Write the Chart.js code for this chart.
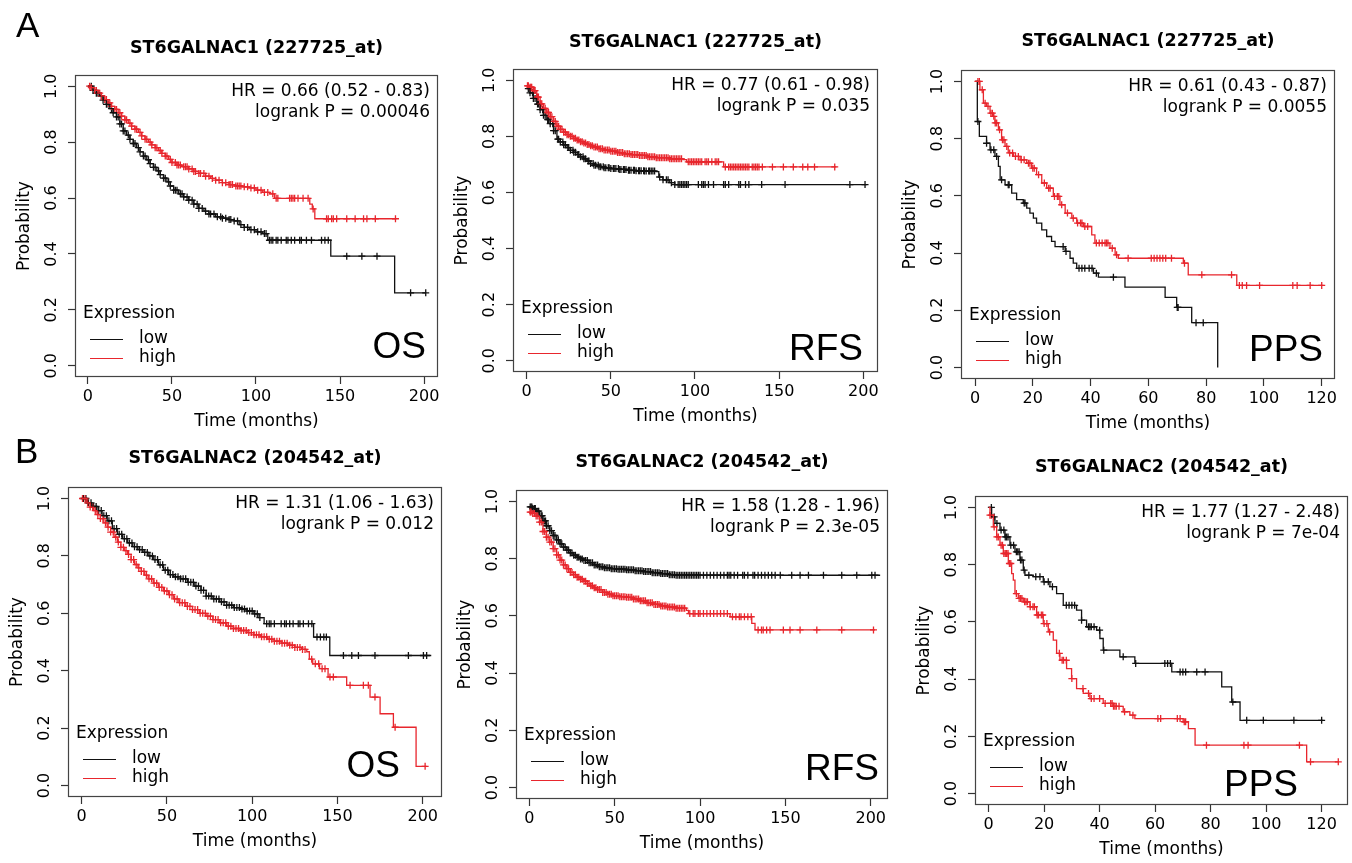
<!DOCTYPE html>
<html><head><meta charset="utf-8">
<script src="https://cdn.jsdelivr.net/npm/chart.js@4.4.1/dist/chart.umd.min.js"></script>
<style>
html,body{margin:0;padding:0;background:#fff;width:1352px;height:863px;overflow:hidden;position:relative;}
canvas{position:absolute;}
.lab{position:absolute;font-family:"Liberation Sans",Arial,sans-serif;font-size:35px;color:#000;line-height:35px;z-index:5;}
</style></head><body>
<div class="lab" style="left:16px;top:7px">A</div>
<div class="lab" style="left:15px;top:433px">B</div>
<script>
// ---------- tick labels ----------
const yTicks = [0, 0.2, 0.4, 0.6, 0.8, 1.0];
const xTicks200 = [0, 50, 100, 150, 200];
const xTicks120 = [0, 20, 40, 60, 80, 100, 120];

// ---------- texts ----------
const titles = ['ST6GALNAC1 (227725_at)', 'ST6GALNAC1 (227725_at)', 'ST6GALNAC1 (227725_at)',
                'ST6GALNAC2 (204542_at)', 'ST6GALNAC2 (204542_at)', 'ST6GALNAC2 (204542_at)'];
const hrTexts = ['HR = 0.66 (0.52 - 0.83)', 'HR = 0.77 (0.61 - 0.98)', 'HR = 0.61 (0.43 - 0.87)',
                 'HR = 1.31 (1.06 - 1.63)', 'HR = 1.58 (1.28 - 1.96)', 'HR = 1.77 (1.27 - 2.48)'];
const pTexts = ['logrank P = 0.00046', 'logrank P = 0.035', 'logrank P = 0.0055',
                'logrank P = 0.012', 'logrank P = 2.3e-05', 'logrank P = 7e-04'];
const endpoints = ['OS', 'RFS', 'PPS', 'OS', 'RFS', 'PPS'];
const groups = ['low', 'high'];

// ---------- A: ST6GALNAC1 OS ----------
const A_OS_low_time = [0,3,5,7,9,11,13,15,17,19,21,23,25,27,29,31,33,35,37,39,41,43,45,47,49,51,54,57,60,63,66,69,72,76,80,84,87,90,93,96,100,104,107,144.5,182.5,201];
const A_OS_low_surv = [1,0.985,0.975,0.965,0.95,0.935,0.92,0.905,0.89,0.865,0.84,0.825,0.81,0.795,0.78,0.765,0.75,0.737,0.723,0.71,0.697,0.684,0.671,0.658,0.643,0.628,0.615,0.604,0.592,0.578,0.563,0.553,0.543,0.533,0.528,0.523,0.518,0.505,0.495,0.487,0.479,0.473,0.449,0.392,0.261,0.261];
const A_OS_low_cens = [2,3,5,6,8,9,11,12,14,15,17,18,19,20,21,22,24,25,27,28,30,31,33,34,36,37,39,40,42,43,45,46,48,49,51,52,53,55,56,57,59,60,62,63,65,66,68,70,72,73,75,77,79,80,82,84,85,87,89,91,93,95,97,99,101,103,105,106,108,109,110,112,113,115,118,119,121,123,126,127,130,133,139,141,143,154,163,172,192,201];
const A_OS_high_time = [0,2,4,6,8,10,12,14,16,18,20,22,24,26,28,30,32,34,36,38,40,42,44,46,48,50,53,56,60,63,66,70,73,76,80,84,88,92,96,100,104,108,111,132,133.5,135,183.5];
const A_OS_high_surv = [1,0.995,0.985,0.975,0.965,0.952,0.94,0.928,0.917,0.905,0.893,0.88,0.868,0.857,0.846,0.835,0.822,0.81,0.8,0.79,0.78,0.77,0.76,0.75,0.738,0.727,0.718,0.712,0.704,0.695,0.688,0.678,0.67,0.664,0.655,0.648,0.643,0.64,0.636,0.628,0.62,0.615,0.599,0.578,0.561,0.526,0.526];
const A_OS_high_cens = [1,2,4,5,7,8,10,11,13,14,16,17,19,20,22,23,25,26,28,29,31,32,34,35,37,38,40,41,43,44,46,47,49,50,52,53,54,55,57,58,59,60,62,63,64,66,67,69,70,72,74,76,78,80,82,84,85,86,88,89,90,91,93,95,97,99,101,103,105,107,110,112,113,120,121,122,123,125,128,131,134,142,143,145,146,148,154,159,164,166,171,183];

// ---------- A: ST6GALNAC1 RFS ----------
const A_RFS_low_time = [0,2,4,6,8,10,12,14,16,18,20,22,24,26,28,30,32,34,36,38,40,43,46,50,55,60,65,70,77,78.5,81,85,88,202];
const A_RFS_low_surv = [0.97,0.955,0.935,0.915,0.895,0.875,0.86,0.845,0.82,0.79,0.78,0.77,0.76,0.75,0.743,0.735,0.727,0.72,0.712,0.703,0.697,0.692,0.688,0.685,0.682,0.679,0.677,0.676,0.674,0.655,0.645,0.635,0.628,0.628];
const A_RFS_low_cens = [1,2,3.5,4,5,6.5,7,8,9.5,10,11,12.5,13,14,15.5,16,17,18.5,19,20,21.5,22,23,24.5,25,26,27.5,28,29,30.5,31,32,33.5,34,35,36.5,37,38,39.5,40,41,42.5,43,44,45.5,46,47,48.5,49,50,51.5,52,53,54.5,55,56,57.5,58,59,60.5,61,62,63.5,64,65,66.5,67,68,69.5,70,71,72.5,73,74,75,76,79,81,83,84,86,88,90,91,92,93,94,95,96,102,104,105,106,108,111,117,118,120,126,127,130,132,139.6,153.5,192,201];
const A_RFS_high_time = [0,2,4,6,8,10,12,14,16,18,20,22,24,26,28,30,32,34,36,38,40,43,46,50,54,58,62,67,72,77,85,93,95,117,184];
const A_RFS_high_surv = [0.98,0.975,0.963,0.94,0.916,0.9,0.885,0.87,0.853,0.836,0.825,0.815,0.806,0.8,0.793,0.787,0.781,0.776,0.771,0.766,0.762,0.756,0.751,0.747,0.742,0.738,0.735,0.732,0.727,0.724,0.72,0.717,0.709,0.691,0.691];
const A_RFS_high_cens = [0.5,1,2,2.5,3,4,4.5,5,6,6.5,7,8,8.5,9,10,11,12,13,14,15,16,17,18,19,20,21,22,23,24,25,26,27,28,29,30,31,32,33,34,35,36,37,38,39,40,41,42,43,44,45,46,47,48,49,50,51,52,53,54,55,56,57,58,59,60,61,62,63,64,65,66,67,68,69,70,71,72,73,74,75,76,77,78,79,80,81,82,83,84,85,86,87,88,89,90,91,92,96,97,98,99,100,101,102,103,104,106,107,108,110,112,113,114,118,120,121,122,123,124,125,126,127,128,129,130,131,132,134,135,136,137,138,140,146,152.5,158.4,164,167,171,183];

// ---------- A: ST6GALNAC1 PPS ----------
const A_PPS_low_time = [0,0.8,1.5,4,5.2,6.9,8.1,8.7,10.4,12.7,14.4,16.7,17.9,19,20.2,21.3,23.1,24.8,26.5,27.7,31.2,32.9,34,35.2,41,42.7,51.9,65.8,69.8,75,84];
const A_PPS_low_surv = [1,0.86,0.808,0.784,0.761,0.738,0.703,0.656,0.639,0.61,0.587,0.575,0.557,0.54,0.522,0.505,0.481,0.458,0.441,0.423,0.406,0.382,0.365,0.347,0.33,0.316,0.281,0.245,0.21,0.157,0];
const A_PPS_low_cens = [1,4,5.5,6.5,7.5,9.2,11.5,11.8,17,17.3,30.5,31.5,36,37,38,39.5,40.5,42,47.9,70,70.3,76.5,79];
const A_PPS_high_time = [0,1.7,2.9,4,5.2,6.3,6.9,8.1,9.2,10.4,11.5,13.3,15.6,17.9,19.6,21.3,23.1,24.8,27.1,29.4,31.2,33.5,35.2,37.5,40.4,41.5,46.7,48.5,49.6,72.1,73.8,90.6,120.6];
const A_PPS_high_surv = [1,0.971,0.924,0.913,0.889,0.878,0.855,0.831,0.796,0.773,0.75,0.738,0.726,0.714,0.697,0.674,0.645,0.627,0.598,0.569,0.54,0.522,0.505,0.493,0.464,0.435,0.417,0.394,0.382,0.365,0.324,0.287,0.287];
const A_PPS_high_cens = [1,1.5,2.5,3.5,4.5,5.5,6,6.5,7,7.5,8.5,9.5,10,11,12,13,14,15,16,17,18.5,19,20,20.5,22,24,25.5,26,27.5,28.5,29,30,32,34,35.5,36.5,37,38,39,42,43,44,45,45.5,46,47.5,49,53,61,62,63,64,65,66,68,72.5,78.5,88.8,91.5,92.5,94,98.5,110,111.5,116,120];

// ---------- B: ST6GALNAC2 OS ----------
const B_OS_low_time = [0,3,6,9,12,15,18,21,24,27,30,33,36,39,42,45,48,51,54,58,62,66,70,73,77,81,85,89,93,97,101,104,107,136,145.5,205];
const B_OS_low_surv = [1,0.985,0.972,0.958,0.94,0.922,0.895,0.875,0.86,0.845,0.832,0.822,0.812,0.8,0.787,0.769,0.75,0.735,0.727,0.72,0.708,0.695,0.68,0.66,0.65,0.64,0.628,0.62,0.615,0.608,0.598,0.585,0.564,0.517,0.453,0.453];
const B_OS_low_cens = [1,2.5,4,5.5,7,8.5,10,11.5,13,14.5,16,17.5,19,20.5,22,23.5,25,26.5,28,29.5,31,32.5,34,35.5,37,38.5,40,41.5,43,44.5,46,47.5,49,50.5,52,53.5,55,56.5,58,59.5,61,62.5,64,65.5,67,68.5,70,71.5,73,74.5,76,77.5,79,80.5,82,83.5,85,86.5,88,89.5,91,92.5,94,95.5,97,98.5,100,101.5,103,104.5,108.5,110,111,113,117,119,120,122,124,127,128,130,133,135,138,140,142,143.5,153.5,158.4,162.3,172,191.6,200.4,202.3];
const B_OS_high_time = [0,3,5,7,9,11,13,15,17,19,21,23,25,27,29,31,33,35,37,39,42,45,48,51,54,57,61,65,69,73,77,81,85,89,93,97,101,105,109,113,117,121,125,129,132,133.5,135.5,139.5,144.5,155.4,169.1,175,182.8,196.1,202.3];
const B_OS_high_surv = [1,0.985,0.97,0.958,0.944,0.93,0.915,0.9,0.883,0.865,0.848,0.83,0.818,0.805,0.787,0.77,0.758,0.746,0.733,0.72,0.705,0.69,0.678,0.665,0.65,0.637,0.624,0.613,0.6,0.59,0.578,0.567,0.555,0.547,0.54,0.533,0.525,0.518,0.51,0.503,0.496,0.489,0.481,0.474,0.466,0.44,0.424,0.407,0.378,0.349,0.308,0.25,0.203,0.067,0.067];
const B_OS_high_cens = [0.5,2,3.5,5,6.5,8,9.5,11,12.5,14,15.5,17,18.5,20,21.5,23,24.5,26,27.5,29,30.5,32,33.5,35,36.5,38,39.5,41,42.5,44,45.5,47,48.5,50,51.5,53,54.5,56,57.5,59,60.5,62,63.5,65,66.5,68,69.5,71,72.5,74,75.5,77,78.5,80,81.5,83,84.5,86,87.5,89,90.5,92,93.5,95,96.5,98,99.5,101,102.5,104,105.5,107,108.5,110,111.5,113,114.5,116,117.5,119,120.5,122,123.5,125,126.5,128,129.5,131,134.9,137,139,141,142.7,145.6,147.6,157.4,165.2,168.1,172,183.8,201.4];

// ---------- B: ST6GALNAC2 RFS ----------
const B_RFS_low_time = [0,2,4,6,8,10,12,14,16,18,20,22,24,26,28,30,32,35,38,41,44,48,52,57,62,67,72,77,82,86,205.5];
const B_RFS_low_surv = [0.981,0.975,0.966,0.95,0.932,0.915,0.898,0.881,0.866,0.852,0.84,0.83,0.82,0.812,0.805,0.799,0.794,0.786,0.778,0.772,0.768,0.765,0.763,0.761,0.758,0.755,0.751,0.748,0.744,0.742,0.742];
const B_RFS_low_cens = [0.5,1,1.5,2,3,3.5,4,5,5.5,6,7,7.5,8,9,9.5,10,11,12,13,14,15,16,17,18,19,20,21,22,23,24,25,26,27,28,29,30,31,32,33,34,35,36,37,38,39,40,41,42,43,44,45,46,47,48,49,50,51,52,53,54,55,56,57,58,59,60,61,62,63,64,65,66,67,68,69,70,71,72,73,74,75,76,77,78,79,80,81,82,83,84,85,86,87,88,89,90,91,92,93,94,95,96,97,98,99,100,102,104,106,108,110,112,114,116,117,118,120,122,125,126,128,131,132,134,136,138,140,142,144,147,153.7,158.6,163.5,172.3,183,191.8,200.6,202.5];
const B_RFS_high_time = [0,2,4,6,8,10,12,14,16,18,20,22,24,26,28,30,32,34,36,38,40,43,46,49,53,57,61,65,69,73,77,81,86,92,93.2,117.6,130.3,132.2,202.5];
const B_RFS_high_surv = [0.963,0.958,0.949,0.928,0.895,0.875,0.858,0.835,0.813,0.795,0.778,0.765,0.752,0.744,0.735,0.728,0.721,0.713,0.705,0.698,0.692,0.682,0.676,0.67,0.667,0.665,0.659,0.653,0.646,0.64,0.635,0.631,0.627,0.619,0.608,0.597,0.574,0.551,0.551];
const B_RFS_high_cens = [0.5,1,2,3,4,5,6,7,8,9,10,11,12,13,14,15,16,17,18,19,20,21,22,23,24,25,26,27,28,29,30,31,32,33,34,35,36,37,38,39,40,41,42,43,44,45,46,47,48,49,50,51,52,53,54,55,56,57,58,59,60,61,62,63,64,65,66,67,68,69,70,71,72,73,74,75,76,77,78,79,80,81,82,83,84,85,86,87,88,89,90,91,94,96,97,99,100,102,104,106,108,110,112,114,116,119,121,123,124,126,128,130,134,136,137,139,141,148.8,152.7,158.6,168.4,183,201.6];

// ---------- B: ST6GALNAC2 PPS ----------
const B_PPS_low_time = [0,1.1,2.3,4.1,5.9,7.7,9.5,11.3,12.5,13.1,16.1,19.7,22.1,24.5,26.9,31.7,33.5,35.3,38.9,40.1,41.3,47.3,52.7,66,84,87.6,90.6,120.6];
const B_PPS_low_surv = [1,0.967,0.944,0.921,0.897,0.868,0.845,0.816,0.781,0.763,0.758,0.74,0.723,0.699,0.658,0.641,0.606,0.583,0.571,0.542,0.501,0.478,0.455,0.425,0.373,0.32,0.256,0.256];
const B_PPS_low_cens = [1,2,3,4.5,5.5,6,6.5,7,8,9,10,10.5,11,11.5,12,12.8,14.5,17,18.5,20,21.5,23,28,29,30,31,33.5,36,36.5,37,38,40,41.5,48.5,53,63.5,64.5,65.5,69,70,71,75,78,88,93,99,110,120];
const B_PPS_high_time = [0,0.5,1.7,2.9,4.1,5.3,7.1,8.3,8.9,9.5,10.7,12.5,14.9,17.3,19.7,21.5,23.3,24.5,25.7,28.1,29.9,31.7,34.1,36.5,41.3,44.9,48.5,50.9,52.7,70.1,72,74.4,114.6,126];
const B_PPS_high_surv = [1,0.973,0.932,0.897,0.868,0.839,0.804,0.769,0.746,0.699,0.682,0.67,0.653,0.624,0.594,0.565,0.536,0.49,0.466,0.437,0.402,0.367,0.35,0.332,0.315,0.305,0.286,0.274,0.262,0.251,0.227,0.169,0.111,0.111];
const B_PPS_high_cens = [0.5,1,2,3,3.5,4.5,5,5.5,6,6.5,7,7.5,8,10,11,11.5,12,13,13.5,14,15,16,16.5,17.5,18,19,19.5,20,21,22,25.5,26.5,27,28,30,34,36,37,38,40,42,44,44.5,45,45.5,46,47,49,52,61,62,68,69,70.5,71,78.5,92,93.5,112,116,126];

// ---------- panel wiring ----------
const panelData = [
  {low: [A_OS_low_time, A_OS_low_surv, A_OS_low_cens], high: [A_OS_high_time, A_OS_high_surv, A_OS_high_cens], xt: xTicks200},
  {low: [A_RFS_low_time, A_RFS_low_surv, A_RFS_low_cens], high: [A_RFS_high_time, A_RFS_high_surv, A_RFS_high_cens], xt: xTicks200},
  {low: [A_PPS_low_time, A_PPS_low_surv, A_PPS_low_cens], high: [A_PPS_high_time, A_PPS_high_surv, A_PPS_high_cens], xt: xTicks120},
  {low: [B_OS_low_time, B_OS_low_surv, B_OS_low_cens], high: [B_OS_high_time, B_OS_high_surv, B_OS_high_cens], xt: xTicks200},
  {low: [B_RFS_low_time, B_RFS_low_surv, B_RFS_low_cens], high: [B_RFS_high_time, B_RFS_high_surv, B_RFS_high_cens], xt: xTicks200},
  {low: [B_PPS_low_time, B_PPS_low_surv, B_PPS_low_cens], high: [B_PPS_high_time, B_PPS_high_surv, B_PPS_high_cens], xt: xTicks120}
];

// layout: plot box in page px, axis range, title centre y, endpoint label offsets
const panelLayout = [
  {L: 75,  T: 75,  R: 438,  B: 377, xmin: -7.7, xmax: 208.3, ty: 48,  er: 12, eb: 19},
  {L: 513, T: 69,  R: 878,  B: 372, xmin: -8.1, xmax: 208.7, ty: 42,  er: 15, eb: 12},
  {L: 961, T: 70,  R: 1335, B: 379, xmin: -4.85, xmax: 124.6, ty: 41, er: 12, eb: 18},
  {L: 68,  T: 487, R: 442,  B: 797, xmin: -8.0, xmax: 211.3, ty: 458, er: 42, eb: 20},
  {L: 516, T: 490, R: 888,  B: 799, xmin: -7.8, xmax: 210.1, ty: 462, er: 9,  eb: 19},
  {L: 975, T: 496, R: 1348, B: 805, xmin: -4.9, xmax: 129.5, ty: 467, er: 50, eb: 9}
];

const COLORS = {low: '#111111', high: '#e8262d'};
const FONT = 'DejaVu Sans';
const TXT = '#000000';
const YAXW = 72, XAXH = 62, TOPH = 50, PADR = 10;

function stepPoints(t, s) { return t.map((v, i) => ({x: v, y: s[i]})); }
function censorPoints(t, s, c) {
  return c.map(ct => {
    let y = s[0];
    for (let i = 0; i < t.length; i++) { if (t[i] <= ct) y = s[i]; else break; }
    return {x: ct, y: y};
  });
}

const annot = {
  id: 'annot',
  afterDraw(chart, args, o) {
    const {ctx, chartArea: a} = chart;
    ctx.save();
    ctx.strokeStyle = '#444'; ctx.lineWidth = 1.2;
    ctx.strokeRect(Math.round(a.left) + 0.5, Math.round(a.top) + 0.5, Math.round(a.width) - 1, Math.round(a.height) - 1);
    ctx.fillStyle = TXT;
    ctx.font = '17px "' + FONT + '"';
    ctx.textAlign = 'right'; ctx.textBaseline = 'middle';
    ctx.fillText(o.hr, a.right - 8, a.top + 17);
    ctx.fillText(o.p, a.right - 8, a.top + 38);
    // legend
    ctx.textAlign = 'left';
    ctx.fillText('Expression', a.left + 8, a.bottom - 63);
    const rows = [['low', a.bottom - 38], ['high', a.bottom - 19]];
    rows.forEach(([g, y]) => {
      ctx.strokeStyle = COLORS[g]; ctx.lineWidth = 1.2;
      ctx.beginPath(); ctx.moveTo(a.left + 15, Math.round(y) + 0.5); ctx.lineTo(a.left + 48, Math.round(y) + 0.5); ctx.stroke();
      ctx.fillStyle = TXT;
      ctx.fillText(g, a.left + 64, y);
    });
    // endpoint label
    ctx.font = '37px "Liberation Sans"';
    ctx.fillStyle = '#000';
    ctx.textAlign = 'right'; ctx.textBaseline = 'alphabetic';
    ctx.fillText(o.ep, a.right - o.er, a.bottom - o.eb);
    ctx.restore();
  }
};

panelData.forEach((pd, k) => {
  const lay = panelLayout[k];
  const cv = document.createElement('canvas');
  const W = lay.R - lay.L + YAXW + PADR;
  const H = lay.B - lay.T + TOPH + XAXH;
  cv.width = W; cv.height = H;
  cv.style.left = (lay.L - YAXW) + 'px';
  cv.style.top = (lay.T - TOPH) + 'px';
  cv.style.width = W + 'px'; cv.style.height = H + 'px';
  document.body.appendChild(cv);

  const lh = 17.5 * 1.2;
  const padB = lay.T - lay.ty - lh / 2;
  const padT = TOPH - lh - padB;

  const datasets = [];
  ['high', 'low'].forEach(g => {
    const [t, s, c] = pd[g];
    datasets.push({label: g, data: stepPoints(t, s), showLine: true, stepped: 'before', borderColor: COLORS[g], borderWidth: 1.3, pointRadius: 0, fill: false});
  });
  ['high', 'low'].forEach(g => {
    const [t, s, c] = pd[g];
    datasets.push({label: g + ' censored', data: censorPoints(t, s, c), showLine: false, pointStyle: 'cross', pointRadius: 3.5, pointBorderWidth: 1.3, borderColor: COLORS[g], backgroundColor: COLORS[g]});
  });

  new Chart(cv, {
    type: 'scatter',
    data: {datasets},
    options: {
      responsive: false, animation: false, devicePixelRatio: 1, events: [],
      layout: {padding: {left: 0, right: PADR, top: 0, bottom: 0}},
      plugins: {
        legend: {display: false}, tooltip: {enabled: false},
        title: {display: true, text: titles[k], fullSize: false, color: TXT,
                font: {family: FONT, size: 17.5, weight: 'bold', lineHeight: 1.2},
                padding: {top: padT, bottom: padB}},
        annot: {hr: hrTexts[k], p: pTexts[k], ep: endpoints[k], er: lay.er, eb: lay.eb}
      },
      scales: {
        x: {
          type: 'linear', min: lay.xmin, max: lay.xmax,
          afterBuildTicks: s => { s.ticks = pd.xt.map(v => ({value: v})); },
          afterFit: s => { s.height = XAXH; },
          border: {display: false},
          grid: {drawOnChartArea: false, drawTicks: true, tickLength: 7, tickColor: '#333', tickWidth: 1.2},
          ticks: {autoSkip: false, maxRotation: 0, minRotation: 0, padding: 3, color: TXT,
                  font: {family: FONT, size: 16}, callback: v => String(v)},
          title: {display: true, text: 'Time (months)', color: TXT, font: {family: FONT, size: 17, lineHeight: 1.2},
                  padding: {top: 0, bottom: 6.8}}
        },
        y: {
          type: 'linear', min: -0.04, max: 1.04,
          afterBuildTicks: s => { s.ticks = yTicks.map(v => ({value: v})); },
          afterFit: s => { s.width = YAXW; },
          border: {display: false},
          grid: {drawOnChartArea: false, drawTicks: true, tickLength: 7, tickColor: '#333', tickWidth: 1.2},
          ticks: {autoSkip: false, minRotation: 90, maxRotation: 90, crossAlign: 'center', padding: 3.3, color: TXT,
                  font: {family: FONT, size: 16}, callback: v => v.toFixed(1)},
          title: {display: true, text: 'Probability', color: TXT, font: {family: FONT, size: 17, lineHeight: 1.2},
                  padding: {top: 11.8, bottom: 0}}
        }
      }
    },
    plugins: [annot]
  });
});
</script>
</body></html>
